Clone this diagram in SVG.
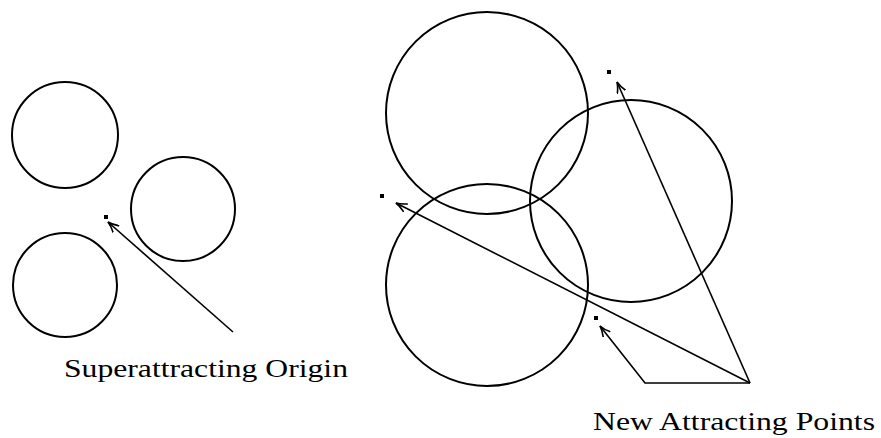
<svg xmlns="http://www.w3.org/2000/svg" width="881" height="438" viewBox="0 0 881 438">
<style>
.c{fill:none;stroke:#000;stroke-width:2}
.l{fill:none;stroke:#000;stroke-width:1.6}
.d{fill:#000}
.t{font-family:"Liberation Serif","DejaVu Serif",serif;fill:#000}
</style>
<defs>
<marker id="ar" viewBox="0 0 12 10" refX="11" refY="5" markerWidth="12" markerHeight="10" markerUnits="userSpaceOnUse" orient="auto">
<path d="M0,0.5 Q6,4 11,5 Q6,6 0,9.5" fill="none" stroke="#000" stroke-width="1.6"/>
</marker>
</defs>
<rect width="881" height="438" fill="#fff"/>
<g id="left-circle-top"><circle class="c" cx="65" cy="135" r="53"/></g>
<g id="left-circle-right"><circle class="c" cx="183" cy="209" r="52"/></g>
<g id="left-circle-bottom"><circle class="c" cx="65" cy="285" r="52"/></g>
<g id="origin"><rect class="d" x="104" y="215" width="4" height="4"/></g>
<g id="right-circle-top"><circle class="c" cx="487" cy="113" r="101"/></g>
<g id="right-circle-right"><circle class="c" cx="631" cy="201" r="101"/></g>
<g id="right-circle-bottom"><circle class="c" cx="487" cy="285" r="101"/></g>
<g id="point-a"><rect class="d" x="380" y="194" width="4" height="4"/></g>
<g id="point-b"><rect class="d" x="607" y="70" width="4" height="4"/></g>
<g id="point-c"><rect class="d" x="594" y="316" width="4" height="4"/></g>
<g id="connectors">
<line class="l" x1="233" y1="332" x2="108" y2="222" marker-end="url(#ar)"/>
<line class="l" x1="750" y1="383" x2="396" y2="203" marker-end="url(#ar)"/>
<line class="l" x1="750" y1="383" x2="617" y2="82" marker-end="url(#ar)"/>
<polyline class="l" points="750,383 645,383 600,326" marker-end="url(#ar)"/>
</g>
<g id="label-origin"><text class="t" x="64" y="377" font-size="26" textLength="284" lengthAdjust="spacingAndGlyphs">Superattracting Origin</text></g>
<g id="label-points"><text class="t" x="593" y="430" font-size="26" textLength="282" lengthAdjust="spacingAndGlyphs">New Attracting Points</text></g>
</svg>
